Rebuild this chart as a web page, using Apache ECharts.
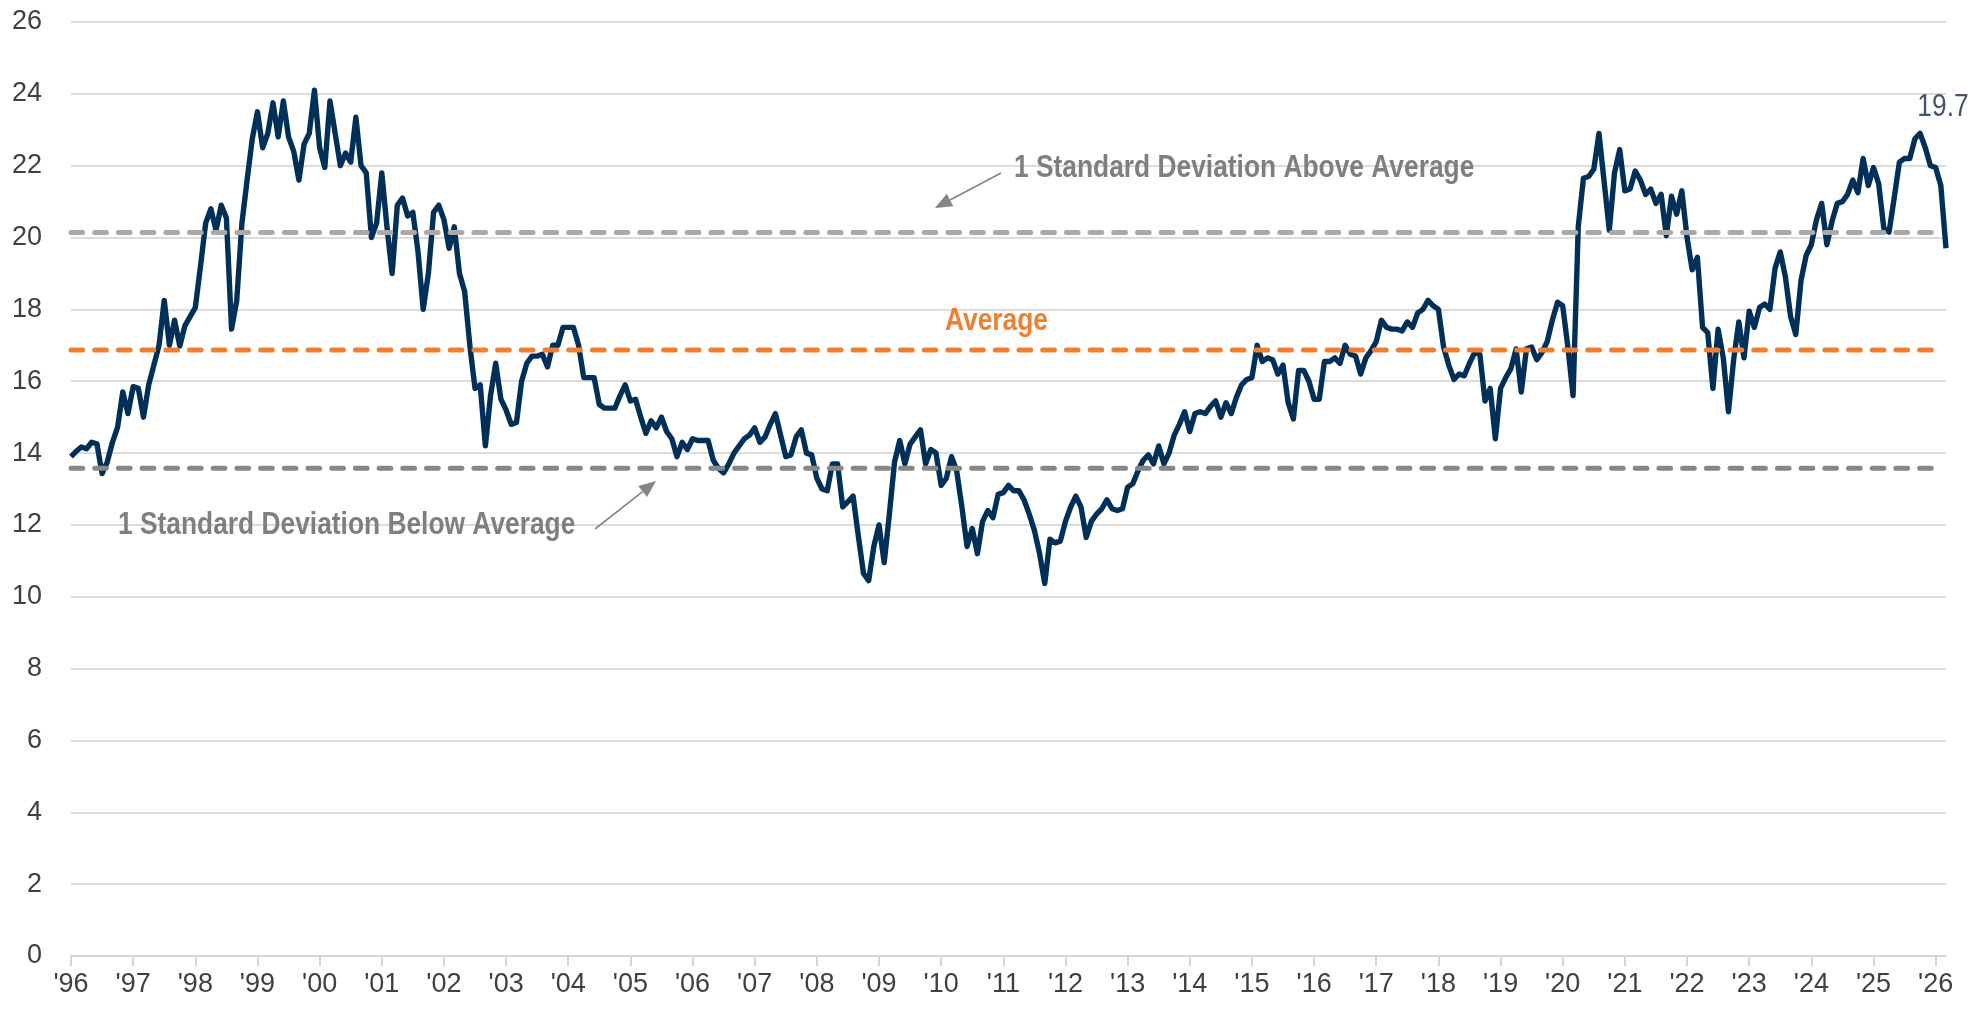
<!DOCTYPE html>
<html>
<head>
<meta charset="utf-8">
<title>Forward P/E</title>
<script src="https://cdn.jsdelivr.net/npm/echarts@6.0.0/dist/echarts.min.js"></script>
<style>
  html, body { margin: 0; padding: 0; background: #fff; }
  #chart { width: 1988px; height: 1011px; }
</style>
</head>
<body>
<div id="chart"></div>
<script>
// monthly values, Jan 1996 .. Mar 2026
const peValues = [
  13.9, 14.05, 14.17, 14.12, 14.3, 14.26, 13.43, 13.75, 14.3, 14.72,
  15.7, 15.1, 15.85, 15.8, 15.0, 15.9, 16.45, 17.0, 18.25, 17.0,
  17.7, 16.98, 17.55, 17.8, 18.05, 19.2, 20.4, 20.8, 20.2, 20.9,
  20.55, 17.45, 18.25, 20.4, 21.6, 22.75, 23.5, 22.5, 22.9, 23.75,
  22.8, 23.8, 22.8, 22.4, 21.6, 22.6, 22.9, 24.1, 22.5, 21.95,
  23.8, 22.9, 22.0, 22.35, 22.1, 23.35, 22.0, 21.8, 20.0, 20.4,
  21.8, 20.3, 19.0, 20.9, 21.1, 20.6, 20.7, 19.6, 18.0, 19.0,
  20.7, 20.9, 20.5, 19.7, 20.3, 19.0, 18.5, 17.0, 15.8, 15.9,
  14.2, 15.6, 16.5, 15.5, 15.2, 14.8, 14.85, 16.0, 16.5, 16.7,
  16.7, 16.75, 16.4, 17.0, 17.0, 17.5, 17.5, 17.5, 17.0, 16.1,
  16.1, 16.1, 15.35, 15.25, 15.25, 15.25, 15.6, 15.9, 15.45, 15.5,
  15.0, 14.55, 14.9, 14.7, 15.0, 14.6, 14.4, 13.9, 14.3, 14.1,
  14.4, 14.35, 14.35, 14.35, 13.8, 13.57, 13.45, 13.7, 14.0, 14.2,
  14.4, 14.5, 14.7, 14.3, 14.45, 14.8, 15.1, 14.5, 13.9, 13.95,
  14.45, 14.65, 14.0, 13.95, 13.3, 13.0, 12.95, 13.7, 13.7, 12.5,
  12.65, 12.8, 11.7, 10.65, 10.45, 11.4, 12.0, 10.95, 12.3, 13.75,
  14.35, 13.7, 14.25, 14.45, 14.65, 13.7, 14.1, 14.0, 13.1, 13.3,
  13.9, 13.5, 12.5, 11.4, 11.9, 11.2, 12.1, 12.4, 12.2, 12.85,
  12.9, 13.1, 12.95, 12.95, 12.7, 12.3, 11.85, 11.2, 10.37, 11.6,
  11.5, 11.55, 12.1, 12.5, 12.8, 12.5, 11.65, 12.1, 12.3, 12.45,
  12.7, 12.45, 12.4, 12.45, 13.05, 13.15, 13.5, 13.8, 13.95, 13.7,
  14.2, 13.7, 14.0, 14.5, 14.8, 15.15, 14.6, 15.1, 15.15, 15.1,
  15.3, 15.45, 15.0, 15.4, 15.1, 15.55, 15.9, 16.05, 16.1, 17.0,
  16.55, 16.65, 16.6, 16.2, 16.45, 15.4, 14.95, 16.3, 16.3, 16.0,
  15.5, 15.5, 16.55, 16.55, 16.65, 16.5, 17.0, 16.75, 16.7, 16.2,
  16.65, 16.85, 17.1, 17.7, 17.5, 17.45, 17.45, 17.4, 17.65, 17.5,
  17.9, 18.0, 18.25, 18.1, 18.0, 16.95, 16.45, 16.05, 16.2, 16.15,
  16.5, 16.8, 16.75, 15.45, 15.8, 14.4, 15.8, 16.1, 16.35, 16.9,
  15.7, 16.9, 16.95, 16.6, 16.8, 17.1, 17.7, 18.2, 18.1, 16.95,
  15.6, 20.3, 21.65, 21.7, 21.9, 22.9, 21.55, 20.2, 21.8, 22.45,
  21.3, 21.35, 21.85, 21.6, 21.2, 21.35, 20.95, 21.2, 20.05, 21.15,
  20.65, 21.3, 20.0, 19.1, 19.45, 17.5, 17.35, 15.8, 17.45, 16.65,
  15.15, 16.6, 17.65, 16.65, 17.95, 17.5, 18.05, 18.15, 18.0, 19.15,
  19.6, 18.9, 17.8, 17.3, 18.8, 19.5, 19.8, 20.5, 20.95, 19.8,
  20.45, 20.95, 21.0, 21.2, 21.6, 21.25, 22.2, 21.45, 21.95, 21.5,
  20.25, 20.15, 21.1, 22.1, 22.2, 22.2, 22.75, 22.9, 22.5, 22.0,
  21.95, 21.45, 19.7
];

const avgValue = 16.87;
const sdAbove = 20.14;
const sdBelow = 13.58;
const refLineEnd = 360; // Jan 2026
const yTicks = { min: 0, max: 26, step: 2 };

// month categories 1996-01 ...
const months = [];
for (let i = 0; i < peValues.length; i++) {
  const y = 1996 + Math.floor(i / 12);
  const m = (i % 12) + 1;
  months.push(y + '-' + (m < 10 ? '0' + m : m));
}

const FONT = "'Liberation Sans', Arial, sans-serif";
const NARROW = 0.85; // squeeze to look like Arial Narrow

function refSeries(name, value, color) {
  return {
    name: name,
    type: 'line',
    data: [[0, value], [refLineEnd, value]],
    showSymbol: false,
    silent: true,
    z: 3,
    lineStyle: { color: color, width: 5, type: [11.7, 12], cap: 'round' },
  };
}

// arrow = line + filled head
function arrow(x1, y1, x2, y2) {
  const a = Math.atan2(y2 - y1, x2 - x1);
  const len = 17, half = 7;
  const bx = x2 - len * Math.cos(a), by = y2 - len * Math.sin(a);
  const px = -Math.sin(a) * half, py = Math.cos(a) * half;
  return [
    { type: 'line', shape: { x1: x1, y1: y1, x2: bx, y2: by }, style: { stroke: '#858585', lineWidth: 1.6 } },
    { type: 'polygon', shape: { points: [[x2, y2], [bx + px, by + py], [bx - px, by - py]] }, style: { fill: '#858585' } },
  ];
}

function note(text, x, y, color, weight, align) {
  return {
    type: 'text', x: x, y: y, scaleX: NARROW,
    style: {
      text: text, fill: color,
      font: (weight || 'bold') + ' 31px ' + FONT,
      align: align || 'left', verticalAlign: 'middle',
    },
  };
}

const chart = echarts.init(document.getElementById('chart'));

const option = {
  animation: false,
  backgroundColor: '#fff',
  grid: { left: 71, right: 42, top: 22, bottom: 55, containLabel: false, outerBoundsMode: 'none' },
  xAxis: {
    type: 'category',
    data: months,
    boundaryGap: false,
    axisLine: { show: true, lineStyle: { color: '#D6D6D6', width: 2 } },
    axisTick: {
      show: true, length: 10,
      interval: (idx) => idx % 12 === 0,
      lineStyle: { color: '#D6D6D6', width: 2 },
    },
    axisLabel: {
      interval: (idx) => idx % 12 === 0,
      formatter: (val) => "'" + val.slice(2, 4),
      fontFamily: FONT, fontSize: 27, color: '#404040', margin: 15,
    },
    splitLine: { show: false },
  },
  yAxis: {
    type: 'value',
    min: yTicks.min, max: yTicks.max, interval: yTicks.step,
    axisLine: { show: false },
    axisTick: { show: false },
    axisLabel: { fontFamily: FONT, fontSize: 27, color: '#404040', margin: 29 },
    splitLine: { show: true, lineStyle: { color: '#DCDCDC', width: 2 } },
  },
  series: [
    {
      name: 'Forward P/E',
      type: 'line',
      data: peValues,
      showSymbol: false,
      symbol: 'none',
      z: 2,
      lineStyle: { color: '#003057', width: 5.4, join: 'round' },
    },
    refSeries('+1 SD', sdAbove, '#A9A9A9'),
    refSeries('Average', avgValue, '#F07F30'),
    refSeries('-1 SD', sdBelow, '#878787'),
  ],
};

chart.setOption(option);

// annotations; the end-value label sits above the last point
const lastIdx = peValues.length - 1;
const lastPt = chart.convertToPixel({ xAxisIndex: 0, yAxisIndex: 0 }, [lastIdx, peValues[lastIdx]]);

chart.setOption({
  graphic: [
    note('1 Standard Deviation Above Average', 1014, 168, '#7F7F7F'),
    note('Average', 945, 321, '#F07F30'),
    note('1 Standard Deviation Below Average', 118, 525, '#7F7F7F'),
    note(String(peValues[lastIdx]), lastPt[0] - 3, lastPt[1] - 141, '#44546A', 'normal', 'center'),
  ].concat(arrow(1001, 173, 935, 208), arrow(595, 529, 656, 481)),
});
</script>
</body>
</html>
